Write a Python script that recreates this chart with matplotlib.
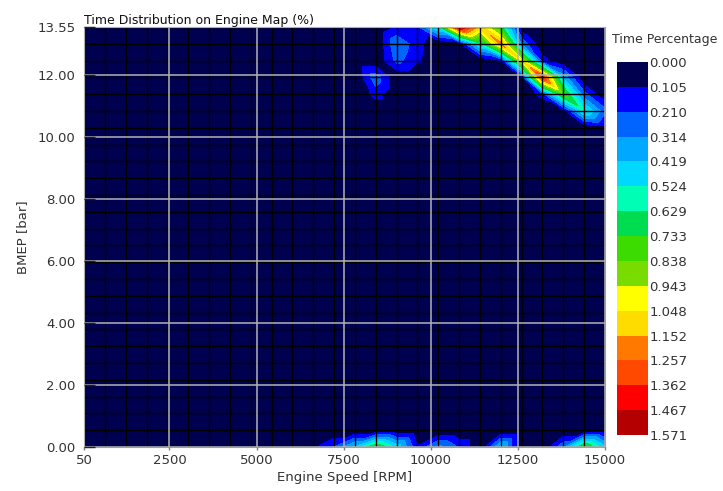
import numpy as np
import matplotlib
matplotlib.use('Agg')
import matplotlib.pyplot as plt
import matplotlib.tri as mtri

# engine map sample grid (26 x 26 nodes)
speed_nodes = np.linspace(50, 15000, 26)
bmep_nodes = np.linspace(0, 13.55, 26)

# high-load ridge: speed index, BMEP index, % of time
ridge_i = [15, 16, 17, 18, 19, 20, 21, 18, 19, 20, 21, 20, 21, 22, 21, 22, 23, 22, 23, 24, 23, 24, 25, 25]
ridge_j = [25, 25, 25, 25, 25, 25, 25, 24, 24, 24, 24, 23, 23, 23, 22, 22, 22, 21, 21, 21, 20, 20, 20, 19]
ridge_pct = [0.12, 0.20, 0.55, 1.50, 1.10, 0.70, 0.05, 0.05, 0.55, 1.20, 0.30, 0.10,
             1.00, 0.15, 0.08, 1.38, 0.40, 0.15, 0.80, 0.25, 0.05, 0.55, 0.25, 0.05]

# part-load islands
island_i = [14, 14, 15, 15, 16, 16]
island_j = [22, 21, 24, 23, 24, 23]
island_pct = [0.28, 0.15, 0.30, 0.25, 0.15, 0.12]

# zero-load points along the bottom row
idle_i = [11, 12, 13, 14, 15, 16, 17, 18, 19, 20, 21, 22, 23, 24, 25]
idle_pct = [0.08, 0.22, 0.45, 0.75, 0.50, 0.12, 0.35, 0.20, 0.0, 0.45, 0.0, 0.0, 0.30, 0.78, 0.45]

levels = [0.000, 0.105, 0.210, 0.314, 0.419, 0.524, 0.629, 0.733, 0.838,
          0.943, 1.048, 1.152, 1.257, 1.362, 1.467, 1.571]
band_colors = ['#000050', '#0000ff', '#0064ff', '#00a8ff', '#00d8ff', '#00ffb4',
               '#00dc50', '#3cdc00', '#78dc00', '#ffff00', '#ffdc00', '#ff7800',
               '#ff4800', '#ff0000', '#b40000']

x_ticks = [50, 2500, 5000, 7500, 10000, 12500, 15000]
y_ticks = [0.0, 2.0, 4.0, 6.0, 8.0, 10.0, 12.0, 13.55]

nx, ny = len(speed_nodes), len(bmep_nodes)
Z = np.zeros((ny, nx))
for i, j, v in zip(ridge_i, ridge_j, ridge_pct):
    Z[j, i] = v
for i, j, v in zip(island_i, island_j, island_pct):
    Z[j, i] = v
for i, v in zip(idle_i, idle_pct):
    Z[0, i] = v

# triangulate the grid: bottom row cut bottom-left -> top-right,
# the rest cut top-left -> bottom-right
X, Y = np.meshgrid(speed_nodes, bmep_nodes)
node = lambda i, j: j * nx + i
tris = []
for j in range(ny - 1):
    for i in range(nx - 1):
        bl, br, tr, tl = node(i, j), node(i + 1, j), node(i + 1, j + 1), node(i, j + 1)
        if j == 0:
            tris += [[bl, br, tr], [bl, tr, tl]]
        else:
            tris += [[bl, br, tl], [br, tr, tl]]
tri = mtri.Triangulation(X.ravel(), Y.ravel(), tris)

plt.rcParams['font.family'] = 'DejaVu Sans'
txt = '#333333'
fs = 9.5

fig = plt.figure(figsize=(7.23, 4.91), dpi=100)
fig.patch.set_facecolor('white')
ax = fig.add_axes([84 / 723, 44 / 491, 521 / 723, 420 / 491])
ax.set_facecolor(band_colors[0])

cs = ax.tricontourf(tri, Z.ravel(), levels=levels, colors=band_colors, zorder=1)

# sample grid
ax.vlines(speed_nodes, 0, 13.55, color='black', lw=1.0, zorder=2)
ax.hlines(bmep_nodes, 50, 15000, color='black', lw=1.0, zorder=2)

ax.set_xlim(50, 15000)
ax.set_ylim(0, 13.55)
ax.set_xticks(x_ticks)
ax.set_yticks(y_ticks)
ax.set_xticklabels([str(t) for t in x_ticks])
ax.set_yticklabels([f'{t:.2f}' for t in y_ticks])
ax.set_axisbelow(False)
ax.grid(True, color='#b4b4b4', lw=1.1, zorder=2.5)
ax.tick_params(axis='y', direction='in', length=8, width=1, color='#202020',
               labelsize=fs, labelcolor=txt, pad=6)
ax.tick_params(axis='x', direction='out', length=2, width=1, color='#808080',
               labelsize=fs, labelcolor=txt, pad=3)
for sp in ax.spines.values():
    sp.set_edgecolor('#a0a0a0')
    sp.set_linewidth(0.8)

ax.set_xlabel('Engine Speed [RPM]', fontsize=fs, color=txt, labelpad=3)
ax.set_ylabel('BMEP [bar]', fontsize=fs, color=txt, labelpad=6)
ax.set_title('Time Distribution on Engine Map (%)', fontsize=9, color='#111111',
             loc='left', pad=2)

cax = fig.add_axes([617 / 723, 56 / 491, 31 / 723, 373 / 491])
cb = fig.colorbar(cs, cax=cax, ticks=levels)
cb.outline.set_visible(False)
cax.invert_yaxis()
cax.set_yticklabels([f'{v:.3f}' for v in levels])
cax.tick_params(length=0, labelsize=fs, labelcolor=txt, pad=1)
fig.text(612 / 723, 1 - 40 / 491, 'Time Percentage', fontsize=9, color=txt,
         ha='left', va='center')

fig.savefig('out.png', dpi=100)
